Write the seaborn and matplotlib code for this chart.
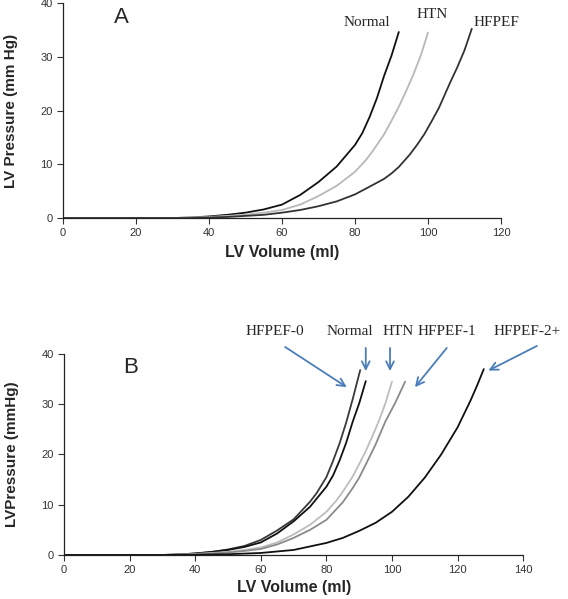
import matplotlib
matplotlib.use("Agg")
import matplotlib.pyplot as plt
import seaborn as sns

# LV end-diastolic pressure-volume curves
# panel A
vol_normal = [0, 10, 20, 30, 35, 40, 45, 50, 55, 60, 65, 70, 75, 78, 80, 82, 84, 86, 88, 90, 92]
p_normal = [0, 0, 0, 0, 0.1, 0.3, 0.6, 1.0, 1.6, 2.5, 4.3, 6.7, 9.6, 12.0, 13.6, 15.8, 18.8, 22.3, 26.5, 30.2, 34.6]

vol_htn = [0, 10, 20, 30, 35, 40, 45, 50, 55, 60, 65, 70, 75, 80, 83, 85, 88, 90, 92, 94, 96, 98, 100]
p_htn = [0, 0, 0, 0, 0.1, 0.2, 0.4, 0.6, 1.0, 1.5, 2.5, 4.1, 6.0, 8.6, 10.8, 12.6, 15.6, 18.1, 20.7, 23.6, 26.7, 30.2, 34.5]

vol_hfpef = [0, 10, 20, 30, 35, 40, 45, 50, 55, 60, 65, 70, 75, 80, 85, 88, 90, 92, 95, 97, 99, 101, 103,
             106, 108, 110, 112]
p_hfpef = [0, 0, 0, 0, 0, 0.1, 0.2, 0.4, 0.6, 1.0, 1.5, 2.2, 3.1, 4.4, 6.2, 7.3, 8.3, 9.5, 11.8, 13.6, 15.6,
           18.0, 20.5, 25.1, 28.0, 31.2, 35.2]

# panel B (Normal and HTN are the same curves as in A)
vol_hfpef0 = [0, 10, 20, 30, 35, 40, 45, 50, 55, 60, 65, 70, 75, 77, 80, 82, 84, 86, 88, 90.3]
p_hfpef0 = [0, 0, 0, 0, 0.1, 0.3, 0.6, 1.1, 1.8, 3.0, 4.9, 7.1, 10.6, 12.3, 15.5, 18.7, 22.2, 26.3, 31.0, 36.8]

vol_hfpef1 = [0, 10, 20, 30, 35, 40, 45, 50, 55, 60, 65, 70, 75, 80, 85, 88, 90, 92, 95, 98, 101, 104]
p_hfpef1 = [0, 0, 0, 0, 0.05, 0.1, 0.3, 0.5, 0.8, 1.2, 2.1, 3.4, 5.0, 7.0, 10.5, 13.3, 15.4, 18.0, 22.0,
            26.6, 30.3, 34.5]

vol_hfpef2 = [0, 10, 20, 30, 40, 50, 60, 70, 80, 85, 90, 95, 100, 105, 110, 115, 120, 124, 126, 128]
p_hfpef2 = [0, 0, 0, 0, 0.05, 0.15, 0.4, 1.0, 2.4, 3.4, 4.8, 6.4, 8.6, 11.6, 15.4, 20.0, 25.4, 30.8, 33.8, 37.0]

labels_a = ["Normal", "HTN", "HFPEF"]
labels_b = ["HFPEF-0", "Normal", "HTN", "HFPEF-1", "HFPEF-2+"]

sns.set_style("ticks")
plt.rcParams['font.family'] = ['Liberation Sans', 'DejaVu Sans']

fig = plt.figure(figsize=(5.68, 5.99), dpi=100)
ax1 = fig.add_axes([0.111, 0.636, 0.771, 0.359])
ax2 = fig.add_axes([0.113, 0.0735, 0.808, 0.3355])

lw = 1.3

# ---- panel A
sns.lineplot(x=vol_normal, y=p_normal, color="#111111", lw=lw, sort=False, estimator=None, ax=ax1)
sns.lineplot(x=vol_htn, y=p_htn, color="#b8b8b8", lw=lw, sort=False, estimator=None, ax=ax1)
sns.lineplot(x=vol_hfpef, y=p_hfpef, color="#333333", lw=lw, sort=False, estimator=None, ax=ax1)

ax1.set_xlim(0, 120)
ax1.set_ylim(0, 40)
ax1.set_xticks([0, 20, 40, 60, 80, 100, 120])
ax1.set_yticks([0, 10, 20, 30, 40])
ax1.set_xlabel("LV Volume (ml)", fontsize=11.5, fontweight="bold", labelpad=5)
ax1.set_ylabel("LV Pressure (mm Hg)", fontsize=11, fontweight="bold", labelpad=16)
ax1.text(14, 36.2, "A", fontsize=16)

serif = dict(family=["Liberation Serif", "DejaVu Serif"], fontsize=11, ha="center", va="center")
ax1.text(83.3, 36.3, labels_a[0], clip_on=False, **serif)
ax1.text(101.1, 37.8, labels_a[1], clip_on=False, **serif)
ax1.text(118.9, 36.3, labels_a[2], clip_on=False, **serif)

# ---- panel B
sns.lineplot(x=vol_hfpef0, y=p_hfpef0, color="#3a3a3a", lw=lw, sort=False, estimator=None, ax=ax2)
sns.lineplot(x=vol_normal, y=p_normal, color="#111111", lw=lw, sort=False, estimator=None, ax=ax2)
sns.lineplot(x=vol_htn, y=p_htn, color="#bdbdbd", lw=lw, sort=False, estimator=None, ax=ax2)
sns.lineplot(x=vol_hfpef1, y=p_hfpef1, color="#8a8a8a", lw=lw, sort=False, estimator=None, ax=ax2)
sns.lineplot(x=vol_hfpef2, y=p_hfpef2, color="#111111", lw=lw, sort=False, estimator=None, ax=ax2)

ax2.set_xlim(0, 140)
ax2.set_ylim(0, 40)
ax2.set_xticks([0, 20, 40, 60, 80, 100, 120, 140])
ax2.set_yticks([0, 10, 20, 30, 40])
ax2.set_xlabel("LV Volume (ml)", fontsize=11.5, fontweight="bold", labelpad=3)
ax2.set_ylabel("LVPressure (mmHg)", fontsize=11, fontweight="bold", labelpad=16)
ax2.text(18, 36.3, "B", fontsize=16)

# label text position, arrow tail, arrow head (data coords)
label_x = [64.3, 87.2, 101.9, 116.8, 141.2]
tail = [(67.4, 41.4), (92.0, 41.2), (99.4, 41.2), (116.7, 41.2), (144.2, 41.6)]
head = [(86.2, 33.4), (92.0, 36.6), (99.4, 36.6), (107.0, 33.4), (129.4, 36.7)]
arrow_col = "#4a7ebb"
for lab, lx, t, h in zip(labels_b, label_x, tail, head):
    ax2.text(lx, 44.4, lab, clip_on=False, **serif)
    ax2.annotate("", xy=h, xytext=t, annotation_clip=False,
                 arrowprops=dict(arrowstyle="->", color=arrow_col, lw=1.3,
                                 mutation_scale=14, shrinkA=0, shrinkB=0))

for ax in (ax1, ax2):
    sns.despine(ax=ax)
    ax.tick_params(labelsize=8, labelcolor="#333333", length=4, width=0.8, color="#333333")
    for s in ("left", "bottom"):
        ax.spines[s].set_linewidth(0.9)
        ax.spines[s].set_color("#222222")

fig.savefig("out.png", dpi=100)
